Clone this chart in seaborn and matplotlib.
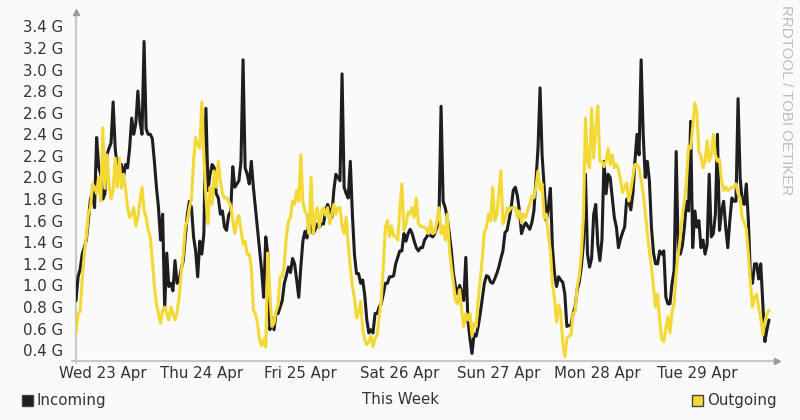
import matplotlib
matplotlib.use('Agg')
import matplotlib.pyplot as plt
import seaborn as sns
import pandas as pd
import numpy as np
from matplotlib.patches import Rectangle

# ---- data (half-hourly samples, in G) ----
day_labels = ["Wed 23 Apr", "Thu 24 Apr", "Fri 25 Apr", "Sat 26 Apr",
              "Sun 27 Apr", "Mon 28 Apr", "Tue 29 Apr"]
y_ticks = [0.4, 0.6, 0.8, 1.0, 1.2, 1.4, 1.6, 1.8, 2.0, 2.2, 2.4, 2.6, 2.8, 3.0, 3.2, 3.4]
y_tick_labels = ["0.4 G", "0.6 G", "0.8 G", "1.0 G", "1.2 G", "1.4 G", "1.6 G", "1.8 G",
                 "2.0 G", "2.2 G", "2.4 G", "2.6 G", "2.8 G", "3.0 G", "3.2 G", "3.4 G"]

incoming = [
    # Wed
    0.86, 1.08, 1.15, 1.29, 1.35, 1.42, 1.60, 1.80, 1.85, 1.72, 2.37, 2.10, 2.03, 1.80,
    1.85, 2.21, 2.27, 2.32, 2.70, 2.27, 2.09, 2.00, 2.12, 2.00, 2.12, 2.09, 2.27, 2.55,
    2.40, 2.50, 2.80, 2.52, 2.40, 3.26, 2.45, 2.40, 2.40, 2.36, 2.15, 1.91, 1.72, 1.42,
    1.66, 0.78, 1.30, 0.99, 1.02, 0.95, 1.23, 1.02, 1.05, 1.15, 1.23, 1.44, 1.66, 1.78,
    # Thu
    1.72, 1.45, 1.32, 1.08, 1.41, 1.29, 1.48, 2.64, 1.88, 2.03, 2.12, 2.09, 1.85, 1.81,
    1.66, 1.69, 1.54, 1.51, 1.65, 1.69, 2.10, 1.91, 1.94, 1.97, 2.15, 3.09, 2.09, 2.03,
    1.94, 2.15, 1.91, 1.72, 1.54, 1.35, 1.14, 0.89, 1.45, 1.29, 0.59, 0.70, 0.59, 0.74,
    0.74, 0.80, 0.86, 1.02, 1.09, 1.17, 1.12, 1.25, 1.20, 1.05, 0.89, 1.17, 1.41, 1.50,
    # Fri
    1.44, 1.60, 1.51, 1.48, 1.52, 1.57, 1.54, 1.57, 1.57, 1.69, 1.75, 1.70, 1.63, 1.88,
    2.03, 2.00, 1.97, 2.96, 1.91, 1.85, 1.81, 2.15, 1.66, 1.29, 1.11, 1.11, 1.02, 1.05,
    0.91, 0.68, 0.56, 0.59, 0.56, 0.74, 0.74, 0.80, 0.83, 0.92, 1.02, 1.02, 1.08, 1.08,
    1.09, 1.20, 1.26, 1.32, 1.32, 1.48, 1.41, 1.48, 1.52, 1.48, 1.41, 1.35, 1.32, 1.35,
    # Sat
    1.35, 1.42, 1.45, 1.48, 1.46, 1.45, 1.48, 1.54, 1.63, 2.66, 1.78, 1.72, 1.63, 1.48,
    1.32, 1.11, 0.99, 0.92, 1.00, 0.94, 0.86, 1.26, 0.68, 0.51, 0.37, 0.55, 0.53, 0.62,
    0.74, 0.88, 1.02, 1.09, 1.08, 1.03, 1.02, 1.06, 1.11, 1.17, 1.25, 1.32, 1.49, 1.51,
    1.61, 1.72, 1.88, 1.91, 1.83, 1.69, 1.48, 1.54, 1.58, 1.55, 1.52, 1.58, 1.69, 1.97,
    # Sun
    2.27, 2.83, 2.20, 1.91, 1.60, 1.72, 1.90, 1.35, 1.11, 0.99, 1.08, 1.05, 1.03, 0.92,
    0.62, 0.63, 0.63, 0.74, 0.80, 0.96, 1.03, 1.17, 1.38, 2.03, 1.29, 1.17, 1.25, 1.66,
    1.75, 1.38, 1.23, 1.42, 2.15, 1.85, 2.03, 2.00, 1.81, 1.63, 1.54, 1.35, 1.43, 1.49,
    1.54, 1.80, 1.78, 1.70, 1.85, 2.15, 2.40, 2.21, 3.09, 2.40, 2.00, 2.15, 1.97, 1.54,
    # Mon
    1.30, 1.20, 1.20, 1.32, 1.29, 1.32, 0.89, 0.83, 0.83, 1.02, 1.14, 2.24, 1.29, 1.29,
    1.37, 1.54, 1.78, 1.69, 2.52, 1.35, 1.69, 1.54, 1.60, 1.35, 1.42, 1.29, 1.38, 2.03,
    1.45, 1.48, 1.66, 2.40, 1.51, 1.69, 1.78, 1.54, 1.35, 1.60, 1.81, 1.78, 1.78, 2.73,
    2.00, 1.78, 1.75, 1.94, 1.60, 1.08, 1.02, 1.20, 1.20, 1.06, 1.20, 0.83, 0.48, 0.59,
    0.68,
]

outgoing = [
    # Wed
    0.56, 0.74, 0.76, 1.05, 1.29, 1.45, 1.66, 1.72, 1.94, 1.91, 1.85, 2.00, 1.78, 2.46,
    1.90, 2.21, 1.95, 1.80, 1.88, 2.18, 1.91, 2.18, 1.90, 2.03, 1.90, 1.72, 1.63, 1.66,
    1.72, 1.55, 1.63, 1.78, 1.91, 1.69, 1.63, 1.51, 1.45, 1.23, 0.99, 0.83, 0.74, 0.65,
    0.77, 0.80, 0.74, 0.68, 0.80, 0.74, 0.68, 0.75, 0.89, 1.11, 1.29, 1.54, 1.60, 1.72,
    # Thu
    1.80, 2.15, 2.37, 2.30, 2.27, 2.70, 2.20, 1.81, 1.57, 1.91, 1.75, 2.06, 1.91, 2.15,
    1.97, 1.85, 1.81, 1.81, 1.78, 1.74, 1.60, 1.48, 1.60, 1.65, 1.51, 1.38, 1.41, 1.29,
    1.29, 1.17, 0.77, 0.74, 0.65, 0.50, 0.44, 0.50, 0.43, 1.30, 0.92, 0.62, 0.65, 0.76,
    0.82, 1.08, 1.08, 1.20, 1.45, 1.60, 1.63, 1.78, 1.75, 1.88, 1.78, 2.21, 1.77, 1.69,
    # Fri
    1.65, 1.48, 2.00, 1.48, 1.63, 1.72, 1.54, 1.69, 1.72, 1.65, 1.72, 1.57, 1.66, 1.75,
    1.66, 1.72, 1.72, 1.55, 1.48, 1.63, 1.38, 1.17, 0.99, 0.89, 0.70, 0.75, 0.85, 0.59,
    0.50, 0.45, 0.48, 0.53, 0.43, 0.51, 0.54, 0.71, 0.86, 1.17, 1.54, 1.60, 1.45, 1.55,
    1.46, 1.45, 1.42, 1.70, 1.94, 1.51, 1.57, 1.68, 1.66, 1.72, 1.63, 1.81, 1.57, 1.55,
    # Sat
    1.54, 1.54, 1.52, 1.48, 1.60, 1.48, 1.49, 1.60, 1.72, 1.48, 1.55, 1.42, 1.66, 1.35,
    1.17, 1.02, 0.86, 0.83, 0.96, 0.77, 0.62, 0.74, 0.68, 0.74, 0.53, 0.65, 0.62, 0.86,
    1.05, 1.26, 1.49, 1.54, 1.66, 1.60, 1.91, 1.60, 1.65, 1.85, 2.06, 1.57, 1.61, 1.72,
    1.69, 1.72, 1.72, 1.72, 1.63, 1.69, 1.58, 1.66, 1.63, 1.70, 1.75, 1.83, 1.81, 1.91,
    # Sun
    2.06, 1.89, 1.94, 1.63, 1.66, 1.46, 1.32, 1.02, 0.88, 0.66, 0.82, 0.74, 0.47, 0.34,
    0.51, 0.53, 0.54, 0.74, 0.76, 0.99, 1.09, 1.29, 1.63, 2.55, 2.14, 2.09, 2.64, 2.18,
    2.45, 2.66, 2.15, 2.15, 2.10, 2.15, 2.27, 2.12, 2.21, 2.09, 2.12, 2.07, 1.98, 1.86,
    1.91, 1.95, 1.78, 1.88, 2.01, 2.12, 2.12, 2.09, 1.98, 1.85, 1.68, 1.49, 1.32, 1.17,
    # Mon
    0.99, 0.80, 0.92, 0.68, 0.50, 0.48, 0.60, 0.71, 0.56, 0.76, 0.83, 1.11, 1.29, 1.45,
    1.66, 1.78, 1.97, 2.29, 2.27, 2.46, 2.69, 2.61, 2.24, 2.20, 2.09, 2.15, 2.34, 2.15,
    2.21, 2.40, 2.21, 2.15, 2.17, 1.97, 1.88, 1.91, 1.88, 1.89, 1.91, 1.91, 1.94, 1.85,
    1.81, 1.63, 1.58, 1.52, 1.29, 1.02, 0.80, 0.89, 0.92, 0.79, 0.70, 0.54, 0.66, 0.74,
    0.77,
]

# ---- styling ----
BG = '#fafafa'
TXT = '#333333'
AXIS = '#c8c8c8'
ARROW = '#9a9a9a'
C_IN = '#1e1e1e'
C_OUT = '#f4d935'

sns.set_theme(style='white')
plt.rcParams['font.family'] = ['DejaVu Sans']

W, H = 800, 420
fig = plt.figure(figsize=(W / 100, H / 100), dpi=100, facecolor=BG)
ax_l, ax_b, ax_w, ax_h = 76, 59, 701, 353
ax = fig.add_axes([ax_l / W, ax_b / H, ax_w / W, ax_h / H])
ax.set_facecolor(BG)

sample_step_hours = 0.5
df = pd.DataFrame({
    'hour': np.arange(len(incoming)) * sample_step_hours,
    'Incoming': incoming,
    'Outgoing': outgoing,
})
sns.lineplot(data=df, x='hour', y='Incoming', ax=ax, color=C_IN, lw=2.2)
sns.lineplot(data=df, x='hour', y='Outgoing', ax=ax, color=C_OUT, lw=2.2)

px_per_hour = 4.125
ax.set_xlim(0, ax_w / px_per_hour)
ax.set_ylim(0.3, 3.57)

first_label_hour = 6.5
ax.set_xticks([first_label_hour + 24 * i for i in range(len(day_labels))])
ax.set_xticklabels(day_labels)
ax.set_yticks(y_ticks)
ax.set_yticklabels(y_tick_labels)
ax.tick_params(axis='both', length=0, labelsize=10.8, colors=TXT)
ax.tick_params(axis='y', pad=9.4)
ax.tick_params(axis='x', pad=3.8)
ax.set_xlabel('')
ax.set_ylabel('')
for s in ax.spines.values():
    s.set_visible(False)
ax.grid(False)

# axes lines with arrows
ax.plot([-0.006, 1.0], [0, 0], transform=ax.transAxes, color=AXIS, lw=1.6, clip_on=False, zorder=1)
ax.plot([0, 0], [-0.006, 0.985], transform=ax.transAxes, color=AXIS, lw=1.6, clip_on=False, zorder=1)
ax.plot([1.0], [0], transform=ax.transAxes, marker='>', ms=5, color=ARROW, mec=ARROW, clip_on=False)
ax.plot([0], [0.99], transform=ax.transAxes, marker='^', ms=5, color=ARROW, mec=ARROW, clip_on=False)

# legend / footer
fy = (H - 400) / H
fig.patches.append(Rectangle((22 / W, (H - 406) / H), 11 / W, 11 / H, transform=fig.transFigure,
                             facecolor=C_IN, edgecolor='#444444', lw=1.0))
fig.text(37 / W, fy, 'Incoming', ha='left', va='center', fontsize=10.8, color=TXT)
fig.text(400 / W, fy, 'This Week', ha='center', va='center', fontsize=10.8, color=TXT)
fig.patches.append(Rectangle((692 / W, (H - 406) / H), 11 / W, 11 / H, transform=fig.transFigure,
                             facecolor=C_OUT, edgecolor='#444444', lw=1.0))
fig.text(707 / W, fy, 'Outgoing', ha='left', va='center', fontsize=10.8, color=TXT)

# watermark
fig.text(786 / W, (H - 5) / H, 'RRDTOOL / TOBI OETIKER', rotation=-90, ha='center', va='top',
         fontsize=10.8, color='#bdbdbd', family=['Liberation Sans', 'DejaVu Sans'])

fig.savefig('out.png', dpi=100, facecolor=BG)
